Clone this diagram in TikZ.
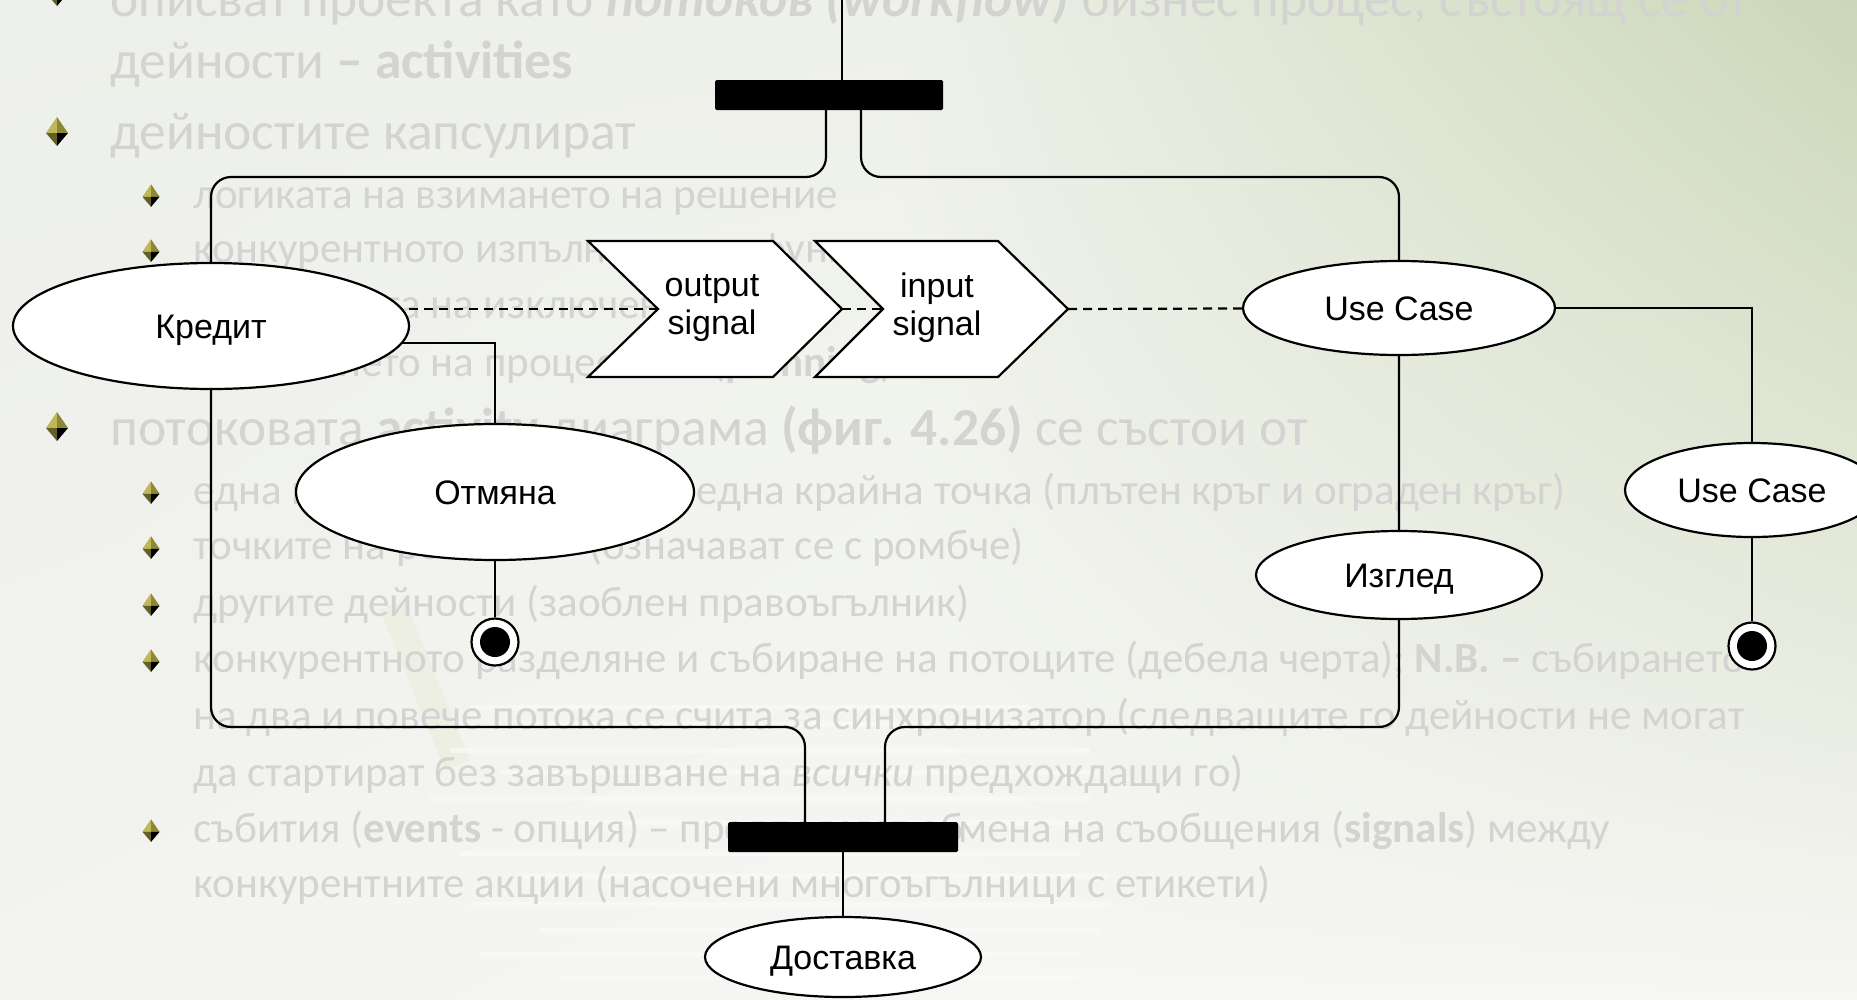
\documentclass[tikz,border=0pt]{standalone}
\usepackage{fontspec}
\setmainfont{Carlito}
\newfontfamily\diagfont{Liberation Sans}
\usetikzlibrary{shapes.geometric,shadings,calc}
\pgfdeclarelayer{slide}
\pgfdeclarelayer{edges}
\pgfsetlayers{slide,edges,main}

\definecolor{slidetext}{RGB}{211,211,209}
\definecolor{bgUL}{RGB}{237,239,234}
\definecolor{bgLL}{RGB}{243,243,240}
\definecolor{bgUM}{RGB}{238,241,233}
\definecolor{bgLM}{RGB}{246,246,244}
\definecolor{bgUR}{RGB}{203,215,184}
\definecolor{bgLR}{RGB}{246,246,243}
\definecolor{paperstreak}{RGB}{252,252,250}
\definecolor{papertint}{RGB}{226,231,200}
\definecolor{bulA}{RGB}{190,184,88}
\definecolor{bulB}{RGB}{140,136,52}
\definecolor{bulC}{RGB}{98,96,40}

\tikzset{
  usecase/.style={ellipse, draw=black, line width=2.2pt, fill=white,
    inner sep=0pt, outer sep=0pt, text height=24pt, text depth=0pt,
    font=\diagfont\fontsize{34}{38}\selectfont},
  sigtext/.style={align=center, inner sep=0pt,
    font=\diagfont\fontsize{34}{38}\selectfont},
  sigshape/.style={draw=black, line width=2.2pt, fill=white, line join=miter},
  syncbar/.style={fill=black, inner sep=0pt, rounded corners=1.5pt},
  flow/.style={draw=black, line width=2.2pt},
  sigflow/.style={draw=black, line width=2.2pt, dash pattern=on 9pt off 6pt},
  finalnode/.style={circle, draw=black, fill=white, line width=2.2pt,
    minimum size=47pt, inner sep=0pt},
  lvlone/.style={anchor=base west, inner sep=0pt, text=slidetext,
    font=\fontsize{53.5}{62}\selectfont},
  lvltwo/.style={anchor=base west, inner sep=0pt, text=slidetext,
    font=\fontsize{43}{50}\selectfont},
  pics/bulletmark/.style={code={
    \fill[bulA] (0,-15) -- (-11,1) -- (0,1) -- cycle;
    \fill[bulB] (0,-15) -- (11,1) -- (0,1) -- cycle;
    \fill[bulC] (-11,1) -- (0,14) -- (0,1) -- cycle;
    \fill[black] (11,1) -- (0,14) -- (0,1) -- cycle;
  }},
}

\begin{document}
\begin{tikzpicture}[x=1pt,y=-1pt]
\useasboundingbox (0,0) rectangle (1857,999);

% ---------- slide background and bullet text ----------
\begin{pgfonlayer}{slide}
  \shade[upper left=bgUL, lower left=bgLL, upper right=bgUM, lower right=bgLM]
    (0,0) rectangle (900,999);
  \shade[upper left=bgUM, lower left=bgLM, upper right=bgUR, lower right=bgLR]
    (900,0) rectangle (1857,999);

  % faint stack of papers behind the lower text
  \fill[papertint, opacity=0.3] (380,610) -- (405,600) -- (470,760) -- (445,770) -- cycle;
  \foreach \sy/\sx/\sl in {705/470/560, 722/520/520, 748/450/640, 770/500/600,
      796/430/660, 820/560/540, 851/460/620, 874/520/590, 902/470/640,
      928/540/560, 952/480/600, 975/560/520}
    \fill[paperstreak, opacity=0.55, rounded corners=2pt] (\sx,\sy) rectangle ++(\sl,5);

  % level-one bullets
  \pic at (57,-8) {bulletmark};
  \pic at (57,132) {bulletmark};
  \pic at (57,427) {bulletmark};
  % level-two bullets
  \foreach \by in {196,251,307,365,493,548,605,661,831}
    \pic[scale=0.78] at (151,\by) {bulletmark};

  \node[lvlone] (l1) at (110,16) {описват проекта като \textbf{\textit{потоков (workflow)}} бизнес процес, състоящ се от};
  \node[lvlone] (l2) at (110,78) {дейности \textbf{– activities}};
  \node[lvlone] (l3) at (110,149) {дейностите капсулират};
  \node[lvltwo] (s1) at (193,208) {логиката на взимането на решение};
  \node[lvltwo] (s2) at (193,262) {конкурентното изпълнение на функции};
  \node[lvltwo] (s3) at (193,318) {обработката на изключения};
  \node[lvltwo] (s4a) at (193,376) {създаването на процеси};
  \node[lvltwo] (s4b) at (712,376) {(\textbf{planning})};
  \node[lvlone] (l4) at (110,445) {потоковата \textbf{activity} диаграма \textbf{(фиг. 4.26)} се състои от};
  \node[lvltwo] (s5a) at (193,504) {една начална точка и};
  \node[lvltwo] (s5b) at (696,504) {една крайна точка (плътен кръг и ограден кръг)};
  \node[lvltwo] (s6a) at (193,559) {точките на решение};
  \node[lvltwo] (s6b) at (589,559) {(означават се с ромбче)};
  \node[lvltwo] (s7) at (193,616) {другите дейности (заоблен правоъгълник)};
  \node[lvltwo] (s8) at (193,672) {конкурентното разделяне и събиране на потоците (дебела черта); \textbf{N.B. –} събирането};
  \node[lvltwo] (s9) at (193,729) {на два и повече потока се счита за синхронизатор (следващите го дейности не могат};
  \node[lvltwo] (s10) at (193,786) {да стартират без завършване на \textit{всички} предхождащи го)};
  \node[lvltwo] (s11a) at (193,842) {събития (\textbf{events} - опция) – предполагат об};
  \node[lvltwo] (s11b) at (958,842) {мена на съобщения (\textbf{signals}) между};
  \node[lvltwo] (s12) at (193,897) {конкурентните акции (насочени многоъгълници с етикети)};
\end{pgfonlayer}

% ---------- activity diagram nodes ----------
\node[syncbar, minimum width=228pt, minimum height=30pt] (fork) at (829,95) {};
\node[syncbar, minimum width=230pt, minimum height=30pt] (join) at (843,837) {};

\node[usecase, minimum width=396pt, minimum height=126pt] (kredit) at (211,326) {Кредит};
\node[usecase, minimum width=398pt, minimum height=136pt] (otmyana) at (495,492) {Отмяна};
\node[usecase, minimum width=312pt, minimum height=94pt] (uc1) at (1399,308) {Use Case};
\node[usecase, minimum width=286pt, minimum height=88pt] (izgled) at (1399,575) {Изглед};
\node[usecase, minimum width=254pt, minimum height=94pt] (uc2) at (1752,490) {Use Case};
\node[usecase, minimum width=276pt, minimum height=80pt] (dostavka) at (843,957) {Доставка};

\node[finalnode] (end1) at (495,642) {};
\fill[black] (end1.center) circle[radius=15];
\node[finalnode] (end2) at (1752,646) {};
\fill[black] (end2.center) circle[radius=15];

% signal chevrons
\coordinate (outnotch) at (658,309);
\coordinate (outtip) at (842,309);
\coordinate (innotch) at (883,309);
\coordinate (intip) at (1068,309);
\draw[sigshape] (outnotch) -- ++(-70,-68) -- ++(185,0) -- (outtip)
  -- ++(-69,68) -- ++(-185,0) -- cycle;
\draw[sigshape] (innotch) -- ++(-68,-68) -- ++(183,0) -- (intip)
  -- ++(-70,68) -- ++(-183,0) -- cycle;
\node[sigtext] (outsig) at (712,308) {output\\signal};
\node[sigtext] (insig) at (937,308) {input\\signal};

% ---------- connectors ----------
\coordinate (entry) at (842,0);
\coordinate (busup) at (0,177);
\coordinate (buslow) at (0,727);
\begin{pgfonlayer}{edges}
  \draw[flow] (entry) -- (entry |- fork.north);
  \draw[flow, rounded corners=20pt] ([xshift=-3pt]fork.south) |- (kredit.center |- busup)
    -- (kredit.center |- buslow) -| ([xshift=-38pt]join.north);
  \draw[flow, rounded corners=20pt] ([xshift=32pt]fork.south) |- (uc1.center |- busup)
    -- (uc1.center |- buslow) -| ([xshift=42pt]join.north);
  \draw[flow] (join.center) -- (dostavka.center);
  \draw[flow] (otmyana.center) |- ([yshift=-17pt]kredit.center);
  \draw[flow] (otmyana) -- (end1);
  \draw[flow] (uc1.center) -| (uc2.center);
  \draw[flow] (uc2) -- (end2);
  \draw[sigflow] (outnotch) -- (outnotch -| kredit.center);
  \draw[sigflow] (outtip) -- (innotch);
  \draw[sigflow] (intip) -- (uc1.center);
\end{pgfonlayer}
\end{tikzpicture}
\end{document}
